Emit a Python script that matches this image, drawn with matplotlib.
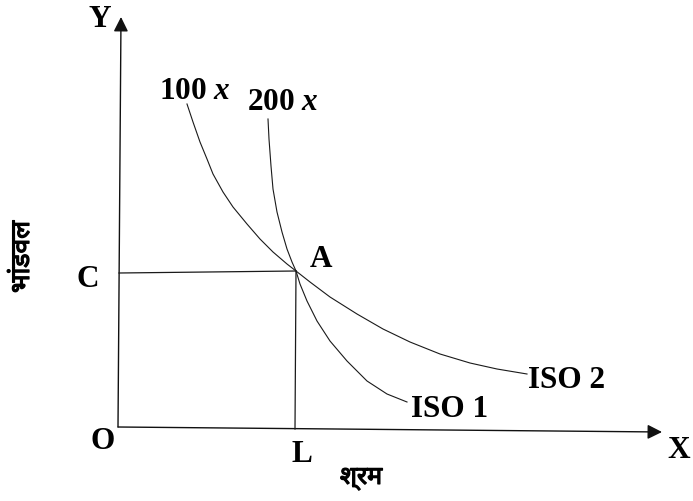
import matplotlib
matplotlib.use('Agg')
import matplotlib.pyplot as plt
import matplotlib.patheffects as pe
from matplotlib.patches import FancyArrowPatch

# positions, in pixel units (y grows downward)
origin = (118, 428)
y_axis_top = (121, 18)
x_axis_end = (662, 433)
point_a = (296, 272)
point_c = (119, 274)
point_l = (295, 430)

# isoquant drawn for 100 x (ends at ISO 2)
iso_100_x = [187, 193, 200, 207, 213, 223, 233, 247, 260, 273, 287, 296,
             310, 330, 357, 383, 410, 440, 470, 497, 527]
iso_100_y = [105, 123, 143, 160, 175, 193, 208, 225, 240, 253, 265, 272,
             283, 298, 315, 330, 343, 355, 364, 370, 375]

# isoquant drawn for 200 x (ends at ISO 1)
iso_200_x = [268, 269, 271, 273, 277, 282, 287, 292, 296,
             300, 307, 317, 330, 347, 367, 387, 407]
iso_200_y = [120, 140, 167, 190, 213, 233, 250, 263, 272,
             285, 302, 322, 342, 362, 382, 395, 403]

# label text and baseline anchor (centre x, baseline y)
labels = {
    'Y': (100, 27), 'C': (88, 287), 'O': (103, 449), 'L': (302, 462),
    'X': (679, 458), 'A': (321, 267),
    'ISO 2': (567, 388), 'ISO 1': (450, 417),
    r'100 $x$': (195, 99), r'200 $x$': (283, 110),
}

x_title = 'श्रम'
y_title = 'भांडवल'

plt.rcParams['font.family'] = ['Liberation Serif', 'DejaVu Serif']
plt.rcParams['mathtext.fontset'] = 'custom'
plt.rcParams['mathtext.it'] = 'Liberation Serif:italic:bold'
plt.rcParams['mathtext.rm'] = 'Liberation Serif:bold'

fig = plt.figure(figsize=(6.93, 5.02), dpi=100)
ax = fig.add_axes([0, 0, 1, 1])
ax.set_xlim(0, 693)
ax.set_ylim(502, 0)
ax.axis('off')

ink = '#1a1a1a'

for start, end in [(origin, y_axis_top), (origin, x_axis_end)]:
    ax.add_patch(FancyArrowPatch(start, end, arrowstyle='-|>', mutation_scale=22,
                                 color='#111111', lw=1.0, shrinkA=0, shrinkB=0))

ax.plot([point_c[0], point_a[0]], [point_c[1], point_a[1]], color=ink, lw=0.9)
ax.plot([point_l[0], point_a[0]], [point_l[1], point_a[1]], color=ink, lw=0.9)

ax.plot(iso_100_x, iso_100_y, color=ink, lw=0.8)
ax.plot(iso_200_x, iso_200_y, color=ink, lw=0.8)

for txt, (x, y) in labels.items():
    ax.text(x, y, txt, fontsize=22.5, fontweight='bold', ha='center', va='baseline')

# the Devanagari font has no bold face, so thicken it with a thin stroke
dev_fonts = ['Noto Sans', 'Noto Sans Devanagari', 'DejaVu Sans']
bold_fx = [pe.withStroke(linewidth=0.9, foreground='black')]
ax.text(361, 479, x_title, fontsize=18, ha='center', va='center',
        family=dev_fonts, path_effects=bold_fx)
ax.text(22, 258, y_title, fontsize=19, ha='center', va='center',
        rotation=90, family=dev_fonts, path_effects=bold_fx)

fig.savefig('out.png', dpi=100)
